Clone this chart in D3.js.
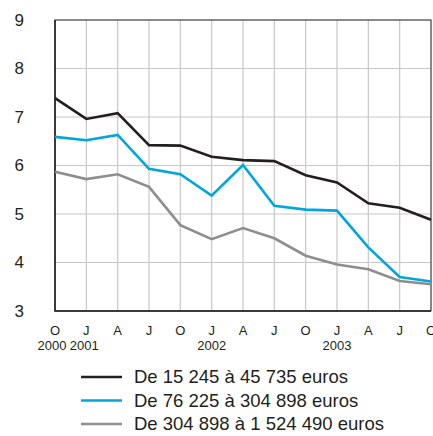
<!DOCTYPE html>
<html>
<head>
<meta charset="utf-8">
<script src="https://cdn.jsdelivr.net/npm/d3@7"></script>
<style>
body { margin:0; background:#fff; }
svg text { font-family: "Liberation Sans", Arial, sans-serif; fill:#231f20; }
</style>
</head>
<body>
<div id="chart"></div>
<script>
// data
var months = ['O','J','A','J','O','J','A','J','O','J','A','J','O'];
var years = [{i:0, label:'2000', dx:-3}, {i:1, label:'2001', dx:-2}, {i:5, label:'2002', dx:0}, {i:9, label:'2003', dx:0}];
var yTicks = [3,4,5,6,7,8,9];

var seriesLow = [7.39,6.96,7.08,6.42,6.41,6.18,6.11,6.09,5.80,5.65,5.22,5.13,4.88];
var seriesMid = [6.59,6.52,6.63,5.93,5.82,5.38,6.01,5.17,5.09,5.07,4.31,3.70,3.61];
var seriesHigh = [5.87,5.72,5.82,5.56,4.77,4.48,4.71,4.50,4.14,3.96,3.86,3.62,3.55];

var legendLabels = ['De 15 245 à 45 735 euros', 'De 76 225 à 304 898 euros', 'De 304 898 à 1 524 490 euros'];
var colors = ['#231f20', '#00a6dc', '#8e8e8e'];

var svgWidth = 433,
	svgHeight = 436;

var margin = {t:20, r:2, b:125, l:55};
var width = 431 - margin.l,
	height = 311 - margin.t;

var svg = d3.select('#chart')
	.append('svg')
	.attr('width', svgWidth)
	.attr('height', svgHeight);

var chartGroup = svg.append('g')
	.attr('transform', `translate(${margin.l},${margin.t})`);

var xScale = d3.scaleLinear()
	.domain([0, months.length - 1])
	.range([0, width]);

var yScale = d3.scaleLinear()
	.domain([3, 9])
	.range([height, 0]);

// grid
chartGroup.append('g').selectAll('line')
	.data(d3.range(months.length))
	.enter()
	.append('line')
	.attr('x1', d => xScale(d))
	.attr('x2', d => xScale(d))
	.attr('y1', 0)
	.attr('y2', height)
	.attr('stroke', '#c8c8c8')
	.attr('stroke-width', 1.2);

chartGroup.append('g').selectAll('line')
	.data(yTicks)
	.enter()
	.append('line')
	.attr('x1', 0)
	.attr('x2', width)
	.attr('y1', d => yScale(d))
	.attr('y2', d => yScale(d))
	.attr('stroke', '#c8c8c8')
	.attr('stroke-width', 1.2);

// frame
chartGroup.append('rect')
	.attr('width', width)
	.attr('height', height)
	.attr('fill', 'none')
	.attr('stroke', '#333')
	.attr('stroke-width', 1);
chartGroup.append('path')
	.attr('d', `M0,0V${height}H${width}`)
	.attr('fill', 'none')
	.attr('stroke', '#231f20')
	.attr('stroke-width', 1.5);

// y labels
chartGroup.append('g').selectAll('text')
	.data(yTicks)
	.enter()
	.append('text')
	.attr('x', -31)
	.attr('y', d => yScale(d))
	.attr('dy', '0.35em')
	.attr('text-anchor', 'end')
	.style('font-size', '17px')
	.text(d => d);

// x labels
chartGroup.append('g').selectAll('text')
	.data(months)
	.enter()
	.append('text')
	.attr('x', (d, i) => xScale(i))
	.attr('y', height + 24)
	.attr('text-anchor', 'middle')
	.style('font-size', '13px')
	.text(d => d);

chartGroup.append('g').selectAll('text')
	.data(years)
	.enter()
	.append('text')
	.attr('x', d => xScale(d.i) + d.dx)
	.attr('y', height + 39)
	.attr('text-anchor', 'middle')
	.style('font-size', '13px')
	.text(d => d.label);

// lines
var line = d3.line()
	.x((d, i) => xScale(i))
	.y(d => yScale(d));

var allSeries = [seriesLow, seriesMid, seriesHigh];
chartGroup.append('g').selectAll('path')
	.data(allSeries.slice().reverse())
	.enter()
	.append('path')
	.attr('d', line)
	.attr('fill', 'none')
	.attr('stroke', (d, i) => colors[2 - i])
	.attr('stroke-width', 2.6)
	.attr('stroke-linejoin', 'miter');

// legend
var legend = svg.append('g')
	.attr('transform', 'translate(81,377)');

var items = legend.selectAll('g')
	.data(legendLabels)
	.enter()
	.append('g')
	.attr('transform', (d, i) => `translate(0,${i * 23.5})`);

items.append('line')
	.attr('x1', 0)
	.attr('x2', 41)
	.attr('stroke', (d, i) => colors[i])
	.attr('stroke-width', 2.6);

items.append('text')
	.attr('x', 53)
	.attr('dy', '0.35em')
	.style('font-size', '18.5px')
	.text(d => d);
</script>
</body>
</html>
